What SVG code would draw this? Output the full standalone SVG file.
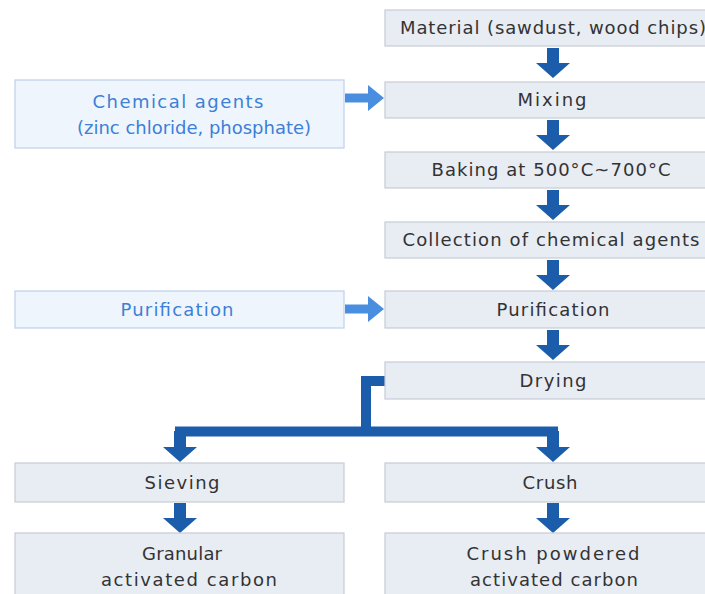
<svg xmlns="http://www.w3.org/2000/svg" width="705" height="594" viewBox="0 0 705 594">
<defs>
<style>
.box{fill:#e8ecf3;stroke:#c6cbd4;stroke-width:1.2}
.lbox{fill:#eff5fd;stroke:#bcd0ea;stroke-width:1.2}
.t{font-family:"DejaVu Sans","Noto Sans",Arial,sans-serif;font-size:18px;fill:#333333;text-anchor:middle}
.bt{font-family:"DejaVu Sans","Noto Sans",Arial,sans-serif;font-size:18px;fill:#3d80d6;text-anchor:middle}
.darr{fill:#1b5cab}
.larr{fill:#4a8ee0}
.conn{fill:none;stroke:#1b5cab;stroke-width:10;stroke-linejoin:miter;stroke-linecap:butt}
</style>
<path id="down" d="M-6,0 H6 V15 H17 L0,30 L-17,15 H-6 Z"/>
<path id="right" d="M0,-4.5 H23 V-13 L39,0 L23,13 V4.5 H0 Z"/>
</defs>
<rect width="705" height="594" fill="#ffffff"/>

<g id="connectors">
<use href="#down" class="darr" x="553" y="48"/>
<use href="#down" class="darr" x="553" y="120"/>
<use href="#down" class="darr" x="553" y="190"/>
<use href="#down" class="darr" x="553" y="260"/>
<use href="#down" class="darr" x="553" y="330"/>
<use href="#right" class="larr" x="345" y="98"/>
<use href="#right" class="larr" x="345" y="309"/>
<path class="conn" d="M386,381 H366 V431"/>
<path class="conn" d="M175,431.5 H558"/>
<path class="darr" d="M174,431 H186 V447 H197 L180,462 L163,447 H174 Z"/>
<path class="darr" d="M547,431 H559 V447 H570 L553,462 L536,447 H547 Z"/>
<use href="#down" class="darr" x="180" y="503"/>
<use href="#down" class="darr" x="553" y="503"/>
</g>

<g id="material"><rect class="box" x="385" y="10" width="330" height="36"/><text class="t" x="553" y="34" textLength="306" lengthAdjust="spacing">Material (sawdust, wood chips)</text></g>
<g id="mixing"><rect class="box" x="385" y="82" width="330" height="36"/><text class="t" x="552" y="106" textLength="69" lengthAdjust="spacing">Mixing</text></g>
<g id="baking"><rect class="box" x="385" y="152" width="330" height="36"/><text class="t" x="551" y="176" textLength="239" lengthAdjust="spacing">Baking at 500°C~700°C</text></g>
<g id="collection"><rect class="box" x="385" y="222" width="330" height="36"/><text class="t" x="551" y="246" textLength="297" lengthAdjust="spacing">Collection of chemical agents</text></g>
<g id="purification"><rect class="box" x="385" y="291" width="330" height="37"/><text class="t" x="553" y="316" textLength="113" lengthAdjust="spacing">Purification</text></g>
<g id="drying"><rect class="box" x="385" y="362" width="330" height="37"/><text class="t" x="553" y="387" textLength="67" lengthAdjust="spacing">Drying</text></g>

<g id="chemical-agents"><rect class="lbox" x="15" y="80" width="329" height="68"/><text class="bt" x="178" y="108" textLength="171" lengthAdjust="spacing">Chemical agents</text><text class="bt" x="194" y="134" textLength="234" lengthAdjust="spacing">(zinc chloride, phosphate)</text></g>
<g id="purification-input"><rect class="lbox" x="15" y="291" width="329" height="37"/><text class="bt" x="177" y="316" textLength="113" lengthAdjust="spacing">Purification</text></g>

<g id="sieving"><rect class="box" x="15" y="463" width="329" height="39"/><text class="t" x="182" y="489" textLength="75" lengthAdjust="spacing">Sieving</text></g>
<g id="crush"><rect class="box" x="385" y="463" width="330" height="39"/><text class="t" x="550" y="489" textLength="55" lengthAdjust="spacing">Crush</text></g>
<g id="granular"><rect class="box" x="15" y="533" width="329" height="70"/><text class="t" x="182" y="560" textLength="80" lengthAdjust="spacing">Granular</text><text class="t" x="189" y="586" textLength="176" lengthAdjust="spacing">activated carbon</text></g>
<g id="powdered"><rect class="box" x="385" y="533" width="330" height="70"/><text class="t" x="553" y="560" textLength="173" lengthAdjust="spacing">Crush powdered</text><text class="t" x="554" y="586" textLength="168" lengthAdjust="spacing">activated carbon</text></g>
</svg>
